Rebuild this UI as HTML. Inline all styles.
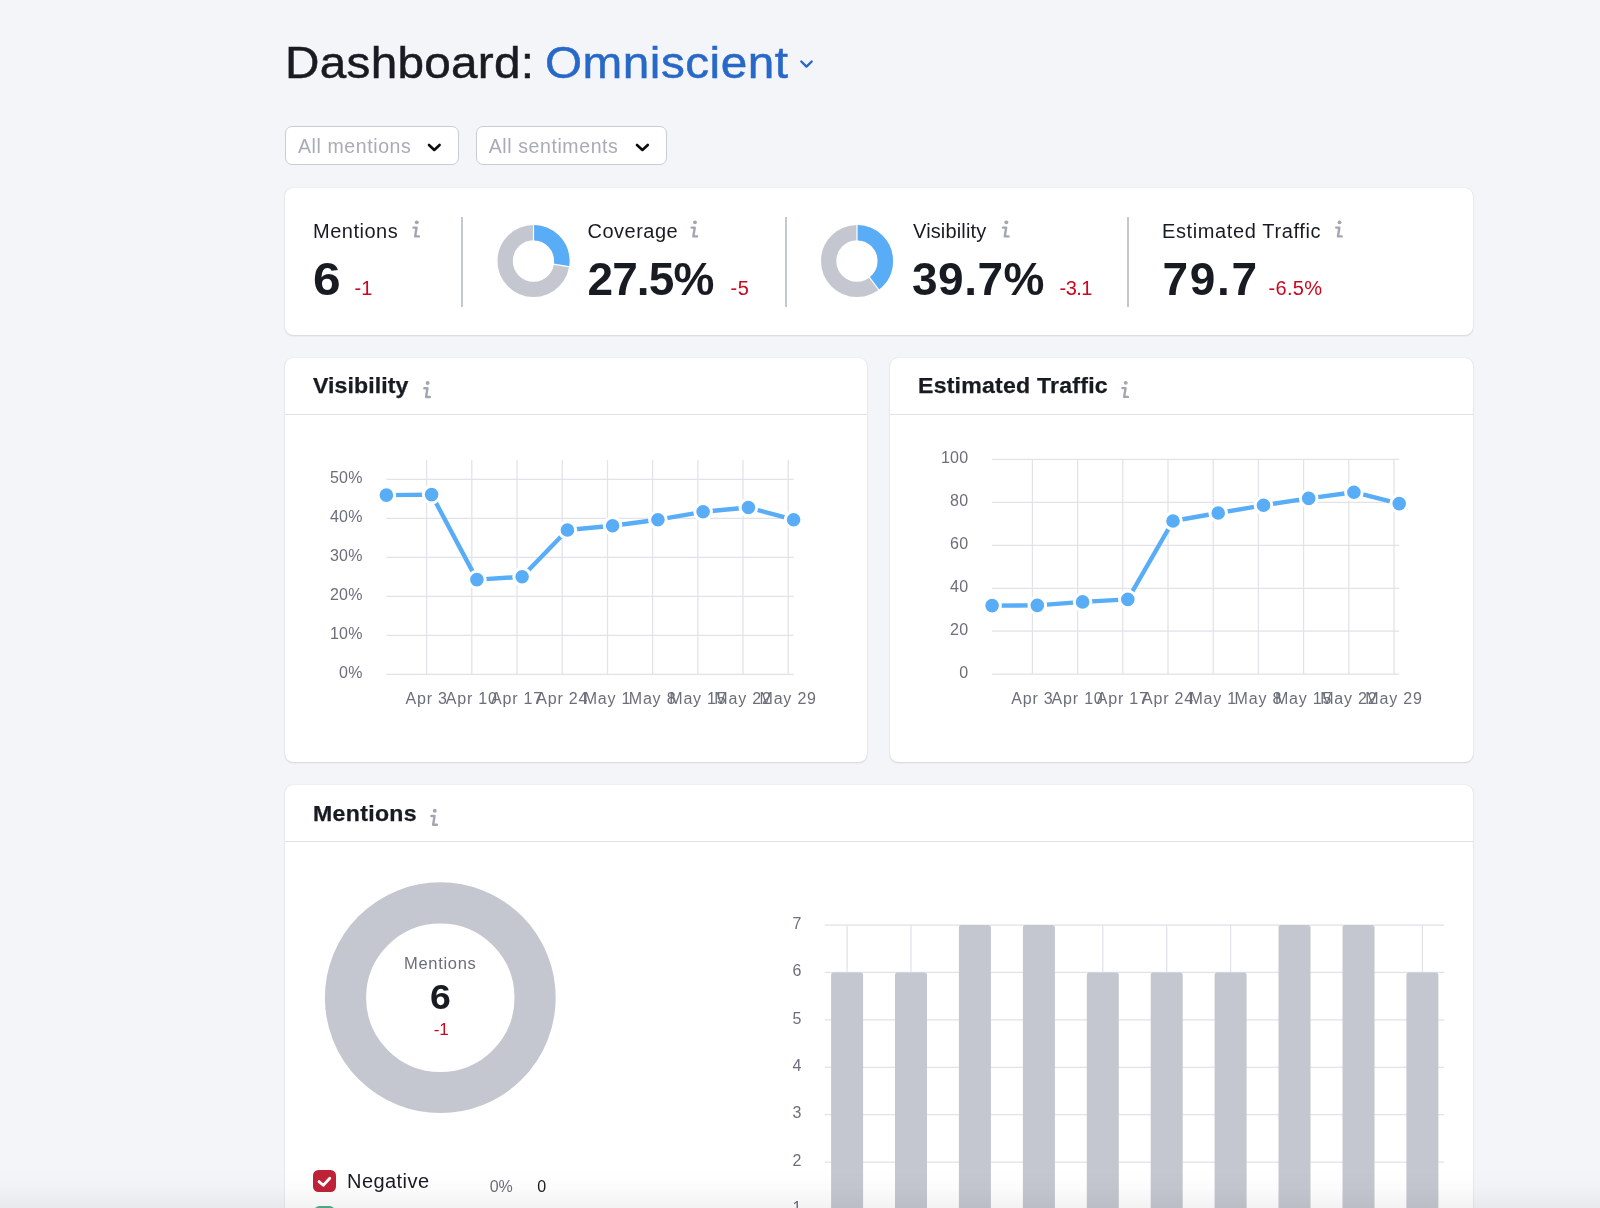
<!DOCTYPE html>
<html>
<head>
<meta charset="utf-8">
<title>Dashboard: Omniscient</title>
<style>
*{box-sizing:border-box;margin:0;padding:0}
html,body{width:1600px;height:1208px;overflow:hidden;background:#f4f5f9}
body{position:relative;will-change:transform;font-family:"Liberation Sans",sans-serif;color:#191b23}
.t{position:absolute;white-space:nowrap;line-height:1}
.card{position:absolute;background:#fff;border-radius:8px;box-shadow:0 0 1px 0 rgba(25,27,35,.16),0 1px 2px 0 rgba(25,27,35,.12)}
.hl{position:absolute;height:1.2px;background:#dfe0e8}
.pill{position:absolute;background:#fff;border:1px solid #c9ccd6;border-radius:7px}
.ph{color:#a9abb6}
.lab{font-size:20px;letter-spacing:.5px}
.big{font-size:46px;font-weight:700}
.red{color:#c9081f}
.delta{font-size:20px}
.h2{font-size:22px;font-weight:700;letter-spacing:0;transform-origin:0 0;transform:scaleX(1.05);-webkit-text-stroke:.25px #191b23}
.ax{font-size:16px;fill:#6c6e79;letter-spacing:.2px;font-family:"Liberation Sans",sans-serif}
.vdiv{position:absolute;width:2px;background:#c4c7cf;top:217px;height:90px}
svg{position:absolute;left:0;top:0;overflow:visible;z-index:5}
</style>
</head>
<body>

<!-- Title -->
<div class="t" id="t1" style="left:284.7px;top:40px;font-size:45px;letter-spacing:.26px;transform-origin:0 0;transform:scaleX(1.06);-webkit-text-stroke:.5px #191b23">Dashboard:</div>
<div class="t" id="t2" style="left:544.5px;top:40px;font-size:45px;letter-spacing:.46px;color:#2868c8;transform-origin:0 0;transform:scaleX(1.06);-webkit-text-stroke:.5px #2868c8">Omniscient</div>
<svg width="1600" height="1208" viewBox="0 0 1600 1208" style="pointer-events:none">
<path d="M801.3 61.5L806.5 66.6L811.7 61.5" fill="none" stroke="#2868c8" stroke-width="2.4" stroke-linecap="round" stroke-linejoin="round"/>
<path d="M429 145L434.3 150L439.6 145" fill="none" stroke="#0b0c10" stroke-width="2.6" stroke-linecap="round" stroke-linejoin="round"/>
<path d="M637 145L642.4 150L647.8 145" fill="none" stroke="#0b0c10" stroke-width="2.6" stroke-linecap="round" stroke-linejoin="round"/>
</svg>

<!-- Filters -->
<div class="pill" style="left:285px;top:125.5px;width:174px;height:39.5px"></div>
<div class="t ph" id="f1" style="left:298px;top:137px;font-size:19.5px;letter-spacing:.6px">All mentions</div>
<div class="pill" style="left:475.5px;top:125.5px;width:191.5px;height:39.5px"></div>
<div class="t ph" id="f2" style="left:488.7px;top:137px;font-size:19.5px;letter-spacing:.6px">All sentiments</div>

<!-- Summary card -->
<div class="card" style="left:285px;top:188px;width:1188px;height:146.8px"></div>


<!-- Summary contents -->
<div class="t lab" id="s1l" style="left:313px;top:221px">Mentions</div>
<div class="t big" id="s1v" style="left:313.3px;top:255.5px;transform-origin:0 0;transform:scaleX(1.08)">6</div>
<div class="t red delta" id="s1d" style="left:354.6px;top:277.8px">-1</div>
<div class="vdiv" style="left:461.3px"></div>

<div class="t lab" id="s2l" style="left:587.5px;top:221px">Coverage</div>
<div class="t big" id="s2v" style="left:587.5px;top:255.5px;letter-spacing:-.9px">27.5%</div>
<div class="t red delta" id="s2d" style="left:730.6px;top:277.8px;letter-spacing:.6px">-5</div>
<div class="vdiv" style="left:784.8px"></div>

<div class="t lab" id="s3l" style="left:913px;top:221px;letter-spacing:.15px">Visibility</div>
<div class="t big" id="s3v" style="left:912px;top:255.5px;letter-spacing:.5px">39.7%</div>
<div class="t red delta" id="s3d" style="left:1059.6px;top:277.8px;letter-spacing:-.6px">-3.1</div>
<div class="vdiv" style="left:1127px"></div>

<div class="t lab" id="s4l" style="left:1162px;top:221px;letter-spacing:.62px">Estimated Traffic</div>
<div class="t big" id="s4v" style="left:1162.5px;top:255.5px;letter-spacing:1.7px">79.7</div>
<div class="t red delta" id="s4d" style="left:1268.6px;top:277.8px;letter-spacing:.3px">-6.5%</div>

<svg width="1600" height="1208" viewBox="0 0 1600 1208">
<g transform="translate(412 220.3)"><circle cx="4.75" cy="2.05" r="1.95" fill="#a3a6b2"/><path d="M1.4 7.3H4.55L3.15 16.1H6.9" fill="none" stroke="#a3a6b2" stroke-width="2.4" stroke-linecap="round" stroke-linejoin="round"/></g>
<g transform="translate(690.2 220.3)"><circle cx="4.75" cy="2.05" r="1.95" fill="#a3a6b2"/><path d="M1.4 7.3H4.55L3.15 16.1H6.9" fill="none" stroke="#a3a6b2" stroke-width="2.4" stroke-linecap="round" stroke-linejoin="round"/></g>
<g transform="translate(1001.6 220.3)"><circle cx="4.75" cy="2.05" r="1.95" fill="#a3a6b2"/><path d="M1.4 7.3H4.55L3.15 16.1H6.9" fill="none" stroke="#a3a6b2" stroke-width="2.4" stroke-linecap="round" stroke-linejoin="round"/></g>
<g transform="translate(1334.8 220.3)"><circle cx="4.75" cy="2.05" r="1.95" fill="#a3a6b2"/><path d="M1.4 7.3H4.55L3.15 16.1H6.9" fill="none" stroke="#a3a6b2" stroke-width="2.4" stroke-linecap="round" stroke-linejoin="round"/></g>
<!-- donut coverage 27.5% -->
<g transform="translate(533.5 261)">
<circle r="28.35" fill="none" stroke="#c4c7cf" stroke-width="15.3"/>
<circle r="28.35" fill="none" stroke="#59adf6" stroke-width="15.3" stroke-dasharray="48.98 178.13" transform="rotate(-90)"/>
<path d="M0 -20V-37" stroke="#fff" stroke-width="1.2"/>
<path d="M0 -20V-37" stroke="#fff" stroke-width="1.2" transform="rotate(99)"/>
</g>
<!-- donut visibility 39.7% -->
<g transform="translate(857 261)">
<circle r="28.35" fill="none" stroke="#c4c7cf" stroke-width="15.3"/>
<circle r="28.35" fill="none" stroke="#59adf6" stroke-width="15.3" stroke-dasharray="70.72 178.13" transform="rotate(-90)"/>
<path d="M0 -20V-37" stroke="#fff" stroke-width="1.2"/>
<path d="M0 -20V-37" stroke="#fff" stroke-width="1.2" transform="rotate(142.9)"/>
</g>
</svg>

<!-- Visibility card -->
<div class="card" style="left:285px;top:357.8px;width:581.9px;height:404.4px"></div>
<div class="hl" style="left:285px;top:413.7px;width:581.9px"></div>

<!-- Traffic card -->
<div class="card" style="left:889.7px;top:357.8px;width:583.3px;height:404.4px"></div>
<div class="hl" style="left:889.7px;top:413.7px;width:583.3px"></div>


<div class="t h2" id="h1" style="left:313.3px;top:375px;letter-spacing:.07px">Visibility</div>
<div class="t h2" id="h2" style="left:918.3px;top:375px;letter-spacing:.21px">Estimated Traffic</div>
<svg width="1600" height="1208" viewBox="0 0 1600 1208">
<g transform="translate(422.9 380.9)"><circle cx="4.75" cy="2.05" r="1.95" fill="#a3a6b2"/><path d="M1.4 7.3H4.55L3.15 16.1H6.9" fill="none" stroke="#a3a6b2" stroke-width="2.4" stroke-linecap="round" stroke-linejoin="round"/></g>
<g transform="translate(1121 380.8)"><circle cx="4.75" cy="2.05" r="1.95" fill="#a3a6b2"/><path d="M1.4 7.3H4.55L3.15 16.1H6.9" fill="none" stroke="#a3a6b2" stroke-width="2.4" stroke-linecap="round" stroke-linejoin="round"/></g>
<g id="vischart">
<path d="M386.4 479.3H793.6M386.4 518.3H793.6M386.4 557.3H793.6M386.4 596.3H793.6M386.4 635.3H793.6M386.4 674.3H793.6M426.6 460.0V674.3M471.8 460.0V674.3M517.0 460.0V674.3M562.2 460.0V674.3M607.5 460.0V674.3M652.6 460.0V674.3M697.9 460.0V674.3M743.0 460.0V674.3M788.2 460.0V674.3" fill="none" stroke="#e1e2ea" stroke-width="1.25"/>
<polyline points="386.4,495.1 431.6,494.6 476.9,579.6 522.1,576.8 567.4,530.0 612.6,525.7 657.9,519.7 703.1,511.8 748.4,507.5 793.6,519.7" fill="none" stroke="#59adf6" stroke-width="4.4" stroke-linejoin="round" stroke-linecap="round"/>
<circle cx="386.4" cy="495.1" r="8.3" fill="#59adf6" stroke="#fff" stroke-width="3"/>
<circle cx="431.6" cy="494.6" r="8.3" fill="#59adf6" stroke="#fff" stroke-width="3"/>
<circle cx="476.9" cy="579.6" r="8.3" fill="#59adf6" stroke="#fff" stroke-width="3"/>
<circle cx="522.1" cy="576.8" r="8.3" fill="#59adf6" stroke="#fff" stroke-width="3"/>
<circle cx="567.4" cy="530.0" r="8.3" fill="#59adf6" stroke="#fff" stroke-width="3"/>
<circle cx="612.6" cy="525.7" r="8.3" fill="#59adf6" stroke="#fff" stroke-width="3"/>
<circle cx="657.9" cy="519.7" r="8.3" fill="#59adf6" stroke="#fff" stroke-width="3"/>
<circle cx="703.1" cy="511.8" r="8.3" fill="#59adf6" stroke="#fff" stroke-width="3"/>
<circle cx="748.4" cy="507.5" r="8.3" fill="#59adf6" stroke="#fff" stroke-width="3"/>
<circle cx="793.6" cy="519.7" r="8.3" fill="#59adf6" stroke="#fff" stroke-width="3"/>
<text class="ax" x="362.6" y="483.0" text-anchor="end">50%</text>
<text class="ax" x="362.6" y="522.0" text-anchor="end">40%</text>
<text class="ax" x="362.6" y="561.0" text-anchor="end">30%</text>
<text class="ax" x="362.6" y="600.0" text-anchor="end">20%</text>
<text class="ax" x="362.6" y="639.0" text-anchor="end">10%</text>
<text class="ax" x="362.6" y="678.0" text-anchor="end">0%</text>
<text class="ax" x="426.6" y="704.3" text-anchor="middle" style="letter-spacing:.8px">Apr 3</text>
<text class="ax" x="471.8" y="704.3" text-anchor="middle" style="letter-spacing:.8px">Apr 10</text>
<text class="ax" x="517.0" y="704.3" text-anchor="middle" style="letter-spacing:.8px">Apr 17</text>
<text class="ax" x="562.2" y="704.3" text-anchor="middle" style="letter-spacing:.8px">Apr 24</text>
<text class="ax" x="607.5" y="704.3" text-anchor="middle" style="letter-spacing:.8px">May 1</text>
<text class="ax" x="652.6" y="704.3" text-anchor="middle" style="letter-spacing:.8px">May 8</text>
<text class="ax" x="697.9" y="704.3" text-anchor="middle" style="letter-spacing:.8px">May 15</text>
<text class="ax" x="743.0" y="704.3" text-anchor="middle" style="letter-spacing:.8px">May 22</text>
<text class="ax" x="788.2" y="704.3" text-anchor="middle" style="letter-spacing:.8px">May 29</text>
</g>
<g id="trchart">
<path d="M992.1 459.4H1399.2M992.1 502.4H1399.2M992.1 545.3H1399.2M992.1 588.3H1399.2M992.1 631.2H1399.2M992.1 674.2H1399.2M1032.4 459.4V674.2M1077.6 459.4V674.2M1122.8 459.4V674.2M1168.0 459.4V674.2M1213.2 459.4V674.2M1258.4 459.4V674.2M1303.6 459.4V674.2M1348.8 459.4V674.2M1394.0 459.4V674.2" fill="none" stroke="#e1e2ea" stroke-width="1.25"/>
<polyline points="992.1,605.6 1037.3,605.4 1082.6,601.9 1127.8,599.4 1173.0,521.0 1218.2,513.0 1263.5,505.3 1308.7,498.4 1353.9,492.2 1399.2,503.6" fill="none" stroke="#59adf6" stroke-width="4.4" stroke-linejoin="round" stroke-linecap="round"/>
<circle cx="992.1" cy="605.6" r="8.3" fill="#59adf6" stroke="#fff" stroke-width="3"/>
<circle cx="1037.3" cy="605.4" r="8.3" fill="#59adf6" stroke="#fff" stroke-width="3"/>
<circle cx="1082.6" cy="601.9" r="8.3" fill="#59adf6" stroke="#fff" stroke-width="3"/>
<circle cx="1127.8" cy="599.4" r="8.3" fill="#59adf6" stroke="#fff" stroke-width="3"/>
<circle cx="1173.0" cy="521.0" r="8.3" fill="#59adf6" stroke="#fff" stroke-width="3"/>
<circle cx="1218.2" cy="513.0" r="8.3" fill="#59adf6" stroke="#fff" stroke-width="3"/>
<circle cx="1263.5" cy="505.3" r="8.3" fill="#59adf6" stroke="#fff" stroke-width="3"/>
<circle cx="1308.7" cy="498.4" r="8.3" fill="#59adf6" stroke="#fff" stroke-width="3"/>
<circle cx="1353.9" cy="492.2" r="8.3" fill="#59adf6" stroke="#fff" stroke-width="3"/>
<circle cx="1399.2" cy="503.6" r="8.3" fill="#59adf6" stroke="#fff" stroke-width="3"/>
<text class="ax" x="968.3" y="463.1" text-anchor="end">100</text>
<text class="ax" x="968.3" y="506.1" text-anchor="end">80</text>
<text class="ax" x="968.3" y="549.0" text-anchor="end">60</text>
<text class="ax" x="968.3" y="592.0" text-anchor="end">40</text>
<text class="ax" x="968.3" y="634.9" text-anchor="end">20</text>
<text class="ax" x="968.3" y="677.9" text-anchor="end">0</text>
<text class="ax" x="1032.4" y="704.3" text-anchor="middle" style="letter-spacing:.8px">Apr 3</text>
<text class="ax" x="1077.6" y="704.3" text-anchor="middle" style="letter-spacing:.8px">Apr 10</text>
<text class="ax" x="1122.8" y="704.3" text-anchor="middle" style="letter-spacing:.8px">Apr 17</text>
<text class="ax" x="1168.0" y="704.3" text-anchor="middle" style="letter-spacing:.8px">Apr 24</text>
<text class="ax" x="1213.2" y="704.3" text-anchor="middle" style="letter-spacing:.8px">May 1</text>
<text class="ax" x="1258.4" y="704.3" text-anchor="middle" style="letter-spacing:.8px">May 8</text>
<text class="ax" x="1303.6" y="704.3" text-anchor="middle" style="letter-spacing:.8px">May 15</text>
<text class="ax" x="1348.8" y="704.3" text-anchor="middle" style="letter-spacing:.8px">May 22</text>
<text class="ax" x="1394.0" y="704.3" text-anchor="middle" style="letter-spacing:.8px">May 29</text>
</g>
</svg>

<!-- Mentions card -->
<div class="card" style="left:285px;top:784.8px;width:1188px;height:460px"></div>
<div class="hl" style="left:285px;top:840.5px;width:1188px"></div>


<div class="t h2" id="h3" style="left:312.6px;top:803px;letter-spacing:.3px">Mentions</div>
<div class="t" id="dn1" style="left:404px;top:955px;font-size:16.5px;letter-spacing:.7px;color:#6c6e79">Mentions</div>
<div class="t" id="dn2" style="left:429.6px;top:979px;font-size:35px;font-weight:700;transform-origin:0 0;transform:scaleX(1.07)">6</div>
<div class="t red" id="dn3" style="left:433.7px;top:1020.7px;font-size:17px">-1</div>
<div style="position:absolute;left:313px;top:1170px;width:23px;height:22px;border-radius:5.5px;background:#bf2237"></div>
<div style="position:absolute;left:314px;top:1206.3px;width:21px;height:22px;border-radius:5.5px;background:#4fae8c"></div>
<div class="t" id="lg1" style="left:347px;top:1171.2px;font-size:20px;letter-spacing:.45px">Negative</div>
<div class="t" id="lg2" style="left:489.7px;top:1178.8px;font-size:16px;color:#6c6e79">0%</div>
<div class="t" id="lg3" style="left:537.2px;top:1178.8px;font-size:16px">0</div>
<svg width="1600" height="1208" viewBox="0 0 1600 1208">
<g transform="translate(430 808.7)"><circle cx="4.75" cy="2.05" r="1.95" fill="#a3a6b2"/><path d="M1.4 7.3H4.55L3.15 16.1H6.9" fill="none" stroke="#a3a6b2" stroke-width="2.4" stroke-linecap="round" stroke-linejoin="round"/></g>
<circle cx="440.3" cy="997.7" r="94.8" fill="none" stroke="#c4c7cf" stroke-width="41.2"/>
<path d="M319 1181.6L323.3 1185.3L329.8 1178.3" fill="none" stroke="#fff" stroke-width="2.8" stroke-linecap="round" stroke-linejoin="round"/>
<g id="barchart">
<path d="M824.8 925.0H1444.3M824.8 972.4H1444.3M824.8 1019.9H1444.3M824.8 1067.3H1444.3M824.8 1114.7H1444.3M824.8 1162.2H1444.3M824.8 1209.6H1444.3M847.1 925V1260M911.0 925V1260M974.9 925V1260M1038.9 925V1260M1102.8 925V1260M1166.7 925V1260M1230.6 925V1260M1294.5 925V1260M1358.5 925V1260M1422.4 925V1260" fill="none" stroke="#e1e2ea" stroke-width="1.25"/>
<path d="M831.1 1260V974.9Q831.1 972.4 833.6 972.4H860.6Q863.1 972.4 863.1 974.9V1260Z" fill="#c4c7cf"/><path d="M895.0 1260V974.9Q895.0 972.4 897.5 972.4H924.5Q927.0 972.4 927.0 974.9V1260Z" fill="#c4c7cf"/><path d="M958.9 1260V927.5Q958.9 925.0 961.4 925.0H988.4Q990.9 925.0 990.9 927.5V1260Z" fill="#c4c7cf"/><path d="M1022.9 1260V927.5Q1022.9 925.0 1025.4 925.0H1052.4Q1054.9 925.0 1054.9 927.5V1260Z" fill="#c4c7cf"/><path d="M1086.8 1260V974.9Q1086.8 972.4 1089.3 972.4H1116.3Q1118.8 972.4 1118.8 974.9V1260Z" fill="#c4c7cf"/><path d="M1150.7 1260V974.9Q1150.7 972.4 1153.2 972.4H1180.2Q1182.7 972.4 1182.7 974.9V1260Z" fill="#c4c7cf"/><path d="M1214.6 1260V974.9Q1214.6 972.4 1217.1 972.4H1244.1Q1246.6 972.4 1246.6 974.9V1260Z" fill="#c4c7cf"/><path d="M1278.5 1260V927.5Q1278.5 925.0 1281.0 925.0H1308.0Q1310.5 925.0 1310.5 927.5V1260Z" fill="#c4c7cf"/><path d="M1342.5 1260V927.5Q1342.5 925.0 1345.0 925.0H1372.0Q1374.5 925.0 1374.5 927.5V1260Z" fill="#c4c7cf"/><path d="M1406.4 1260V974.9Q1406.4 972.4 1408.9 972.4H1435.9Q1438.4 972.4 1438.4 974.9V1260Z" fill="#c4c7cf"/>
<text class="ax" x="801.5" y="928.7" text-anchor="end">7</text><text class="ax" x="801.5" y="976.1" text-anchor="end">6</text><text class="ax" x="801.5" y="1023.6" text-anchor="end">5</text><text class="ax" x="801.5" y="1071.0" text-anchor="end">4</text><text class="ax" x="801.5" y="1118.4" text-anchor="end">3</text><text class="ax" x="801.5" y="1165.9" text-anchor="end">2</text><text class="ax" x="801.5" y="1213.3" text-anchor="end">1</text>
</g>
</svg>
<div id="fade" style="position:absolute;left:0;top:1170px;width:1600px;height:38px;z-index:9;background:linear-gradient(to bottom,rgba(10,10,10,0) 0%,rgba(10,10,10,.012) 45%,rgba(10,10,10,.052) 100%)"></div>

</body>
</html>
